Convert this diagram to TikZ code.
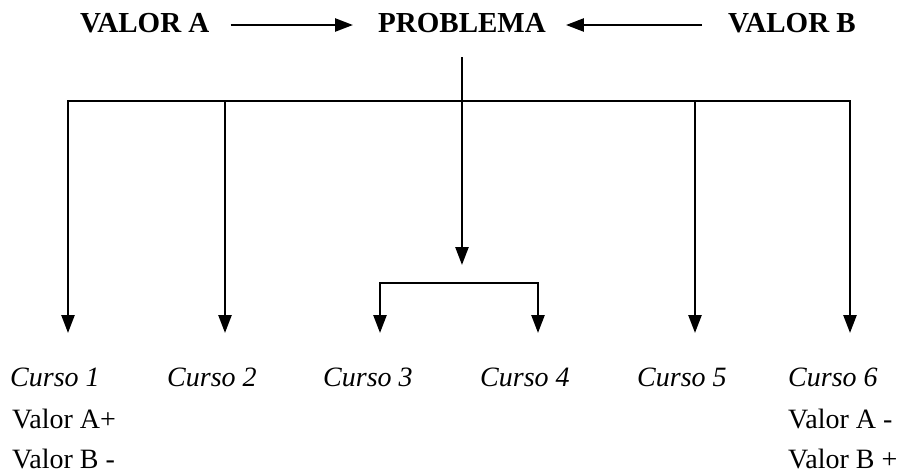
\documentclass[tikz,border=0pt]{standalone}
\usepackage{fontspec}
\setmainfont{Liberation Serif}
\usetikzlibrary{arrows.meta,positioning}

\begin{document}
\begin{tikzpicture}[
    x=1pt, y=-1pt,
    title/.style={font=\fontsize{29}{34}\selectfont\bfseries, inner sep=0pt, anchor=base west},
    course/.style={font=\fontsize{28}{34}\selectfont\itshape, inner sep=0pt, anchor=base west},
    value/.style={font=\fontsize{28}{34}\selectfont, inner sep=0pt, anchor=base west},
    link/.style={line width=2.5pt, draw=black},
    arrow/.style={link, -{Triangle[length=18pt, width=13pt]}},
    twoarrow/.style={link, {Triangle[length=18pt, width=13pt]}-{Triangle[length=18pt, width=13pt]}}
]
    \useasboundingbox (0,0) rectangle (908,475);

    % Top row
    \node (va) [title] at (80,32) {VALOR A};
    \node (pb) [title] at (378,32) {PROBLEMA};
    \node (vb) [title] at (728,32) {VALOR B};

    % Junctions and arrow tips
    \coordinate (bar) at (0,101);
    \coordinate (br) at (0,283);
    \coordinate (t0) at (pb.south |- 0,265);
    \foreach \i/\x in {1/68, 2/225, 3/380, 4/538, 5/695, 6/850}
        \coordinate (t\i) at (\x,333);

    % Courses
    \foreach \i/\x in {1/10, 2/167, 3/323, 4/480, 5/637, 6/788}
        \node (c\i) [course] at (\x,386) {Curso \i};
    \node (a1) [value] at (12,428) {Valor A+};
    \node (b1) [value] at (12,468) {Valor B -};
    \node (a6) [value] at (788,428) {Valor A -};
    \node (b6) [value] at (788,468) {Valor B +};

    % Arrows
    \draw [arrow, shorten <=21pt, shorten >=25pt] ([yshift=7pt]va.base east) -- ([yshift=7pt]pb.base west);
    \draw [arrow, shorten <=26pt, shorten >=20pt] ([yshift=7pt]vb.base west) -- ([yshift=7pt]pb.base east);
    \draw [arrow, shorten <=25pt] (pb.south) -- (t0);
    \draw [link, line cap=rect] (t1 |- bar) -- (t6 |- bar);
    \foreach \i in {1,2,5,6}
        \draw [arrow] (t\i |- bar) -- (t\i);
    \draw [twoarrow] (t3) |- (t4 |- br) -- (t4);
\end{tikzpicture}
\end{document}
